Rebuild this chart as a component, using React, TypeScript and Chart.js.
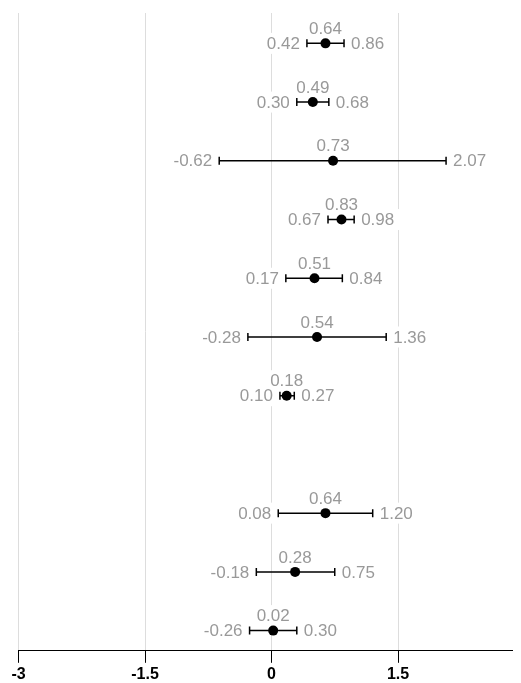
import React, { useEffect, useRef } from "react";
import { Chart, registerables } from "chart.js";

Chart.register(...registerables);

// Rows from top to bottom (index 7 is an empty spacer row)
const rowIndex = [0, 1, 2, 3, 4, 5, 6, 8, 9, 10];
const estimates = [0.64, 0.49, 0.73, 0.83, 0.51, 0.54, 0.18, 0.64, 0.28, 0.02];
const lowerCI = [0.42, 0.3, -0.62, 0.67, 0.17, -0.28, 0.1, 0.08, -0.18, -0.26];
const upperCI = [0.86, 0.68, 2.07, 0.98, 0.84, 1.36, 0.27, 1.2, 0.75, 0.3];
const xTickValues = [-3, -1.5, 0, 1.5, 3];
const xTickLabels = ["-3", "-1.5", "0", "1.5", "3"];

const LABEL_FONT = '17px "Liberation Sans", Arial, sans-serif';
const LABEL_COLOR = "#999999";

type Lbl = { text: string; x: number; y: number; align: "left" | "right" | "center" };

function boxLeft(ctx: CanvasRenderingContext2D, l: Lbl) {
  const w = ctx.measureText(l.text).width;
  let left = l.x;
  if (l.align === "right") left = l.x - w;
  else if (l.align === "center") left = l.x - w / 2;
  return { left, w };
}

const forestPlugin = {
  id: "forest",
  beforeDatasetsDraw(chart: any) {
    const { ctx, scales } = chart;
    const xs = scales.x;
    const ys = scales.y;
    ctx.save();
    ctx.font = LABEL_FONT;
    const labels: Lbl[] = [];
    for (let i = 0; i < estimates.length; i++) {
      const y = ys.getPixelForValue(rowIndex[i]);
      const xl = xs.getPixelForValue(lowerCI[i]);
      const xu = xs.getPixelForValue(upperCI[i]);
      const xe = xs.getPixelForValue(estimates[i]);
      labels.push({ text: estimates[i].toFixed(2), x: xe, y: y - 15, align: "center" });
      labels.push({ text: lowerCI[i].toFixed(2), x: xl - 7, y, align: "right" });
      labels.push({ text: upperCI[i].toFixed(2), x: xu + 7, y, align: "left" });
    }
    // white boxes first
    ctx.fillStyle = "#ffffff";
    for (const l of labels) {
      const { left, w } = boxLeft(ctx, l);
      ctx.fillRect(left - 6, l.y - 10.5, w + 12, 21);
    }
    // then text
    ctx.fillStyle = LABEL_COLOR;
    ctx.textAlign = "left";
    ctx.textBaseline = "middle";
    for (const l of labels) {
      const { left } = boxLeft(ctx, l);
      ctx.fillText(l.text, left, l.y + 1);
    }
    // whiskers
    ctx.strokeStyle = "#000000";
    ctx.lineWidth = 1.5;
    for (let i = 0; i < estimates.length; i++) {
      const y = ys.getPixelForValue(rowIndex[i]);
      const xl = xs.getPixelForValue(lowerCI[i]);
      const xu = xs.getPixelForValue(upperCI[i]);
      ctx.beginPath();
      ctx.moveTo(xl, y);
      ctx.lineTo(xu, y);
      ctx.moveTo(xl, y - 4);
      ctx.lineTo(xl, y + 4);
      ctx.moveTo(xu, y - 4);
      ctx.lineTo(xu, y + 4);
      ctx.stroke();
    }
    ctx.restore();
  },
};

export default function App() {
  const ref = useRef<HTMLCanvasElement | null>(null);
  useEffect(() => {
    if (!ref.current) return;
    const chart = new Chart(ref.current, {
      type: "scatter",
      data: {
        datasets: [
          {
            data: estimates.map((v, i) => ({ x: v, y: rowIndex[i] })),
            pointRadius: 5,
            pointHoverRadius: 5,
            pointBackgroundColor: "#000000",
            pointBorderColor: "#000000",
            pointBorderWidth: 0,
          },
        ],
      },
      options: {
        animation: false,
        responsive: false,
        maintainAspectRatio: false,
        layout: { padding: { left: 10.5, right: 13.5, top: 4.3, bottom: 12.2 } },
        plugins: { legend: { display: false }, tooltip: { enabled: false } },
        scales: {
          x: {
            type: "linear",
            min: -3,
            max: 3,
            afterBuildTicks: (scale: any) => {
              scale.ticks = xTickValues.map((v) => ({ value: v }));
            },
            ticks: {
              callback: (v: any) => {
                const idx = xTickValues.indexOf(Number(v));
                return idx >= 0 ? xTickLabels[idx] : "";
              },
              color: "#000000",
              font: { family: '"Liberation Sans", Arial, sans-serif', size: 16, weight: "bold" },
              padding: 1.9,
              maxRotation: 0,
              autoSkip: false,
            },
            grid: {
              color: "#dddddd",
              lineWidth: 1,
              tickColor: "#000000",
              tickLength: 12,
              tickWidth: 1,
            },
            border: { display: true, color: "#000000", width: 1 },
          },
          y: {
            type: "linear",
            display: false,
            reverse: true,
            min: -0.517,
            max: 10.344,
          },
        },
      },
      plugins: [forestPlugin],
    });
    return () => chart.destroy();
  }, []);
  return (
    <div style={{ width: 513, height: 675, overflow: "hidden" }}>
      <div style={{ width: 530, height: 690 }}>
        <canvas ref={ref} width={530} height={690} style={{ display: "block" }} />
      </div>
    </div>
  );
}
